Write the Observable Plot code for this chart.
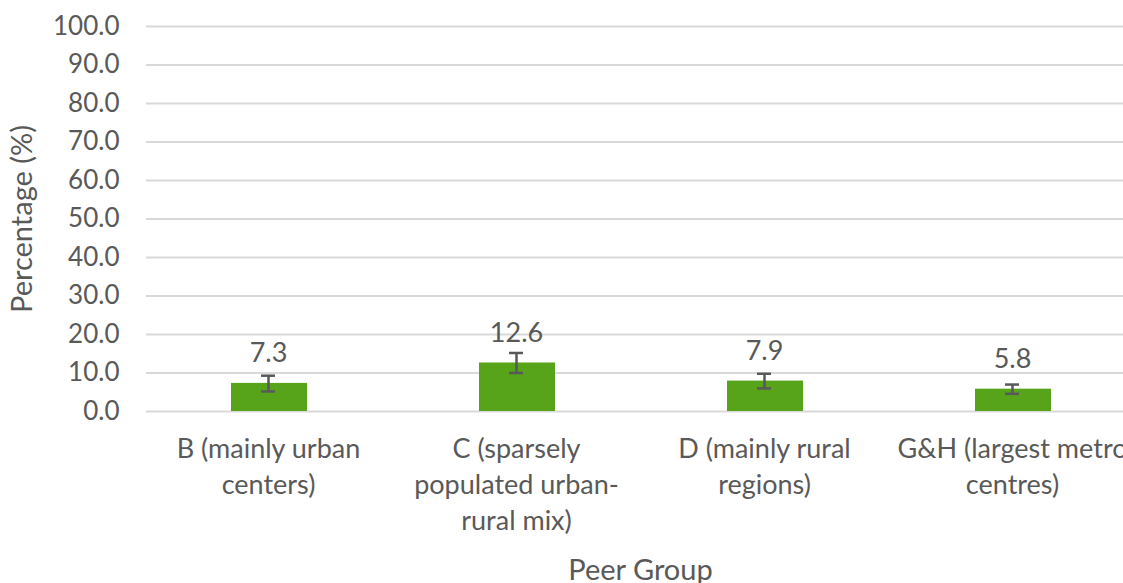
<!DOCTYPE html>
<html><head><meta charset="utf-8">
<script src="https://cdn.jsdelivr.net/npm/d3@7"></script>
<script src="https://cdn.jsdelivr.net/npm/@observablehq/plot@0.6"></script>
<style>
html,body{margin:0;padding:0;background:#fff;overflow:hidden;}
#chart{width:1123px;height:583px;overflow:hidden;}
#chart svg{max-width:none !important;}
</style></head>
<body><div id="chart"></div>
<script>
const categories = ["B", "C", "D", "G&H"];
const categoryLabels = [
  "B (mainly urban\ncenters)",
  "C (sparsely\npopulated urban-\nrural mix)",
  "D (mainly rural\nregions)",
  "G&H (largest metro\ncentres)"
];
const values = [7.3, 12.6, 7.9, 5.8];
const errLow = [5.2, 10.0, 6.0, 4.6];
const errHigh = [9.3, 15.2, 9.8, 7.0];
const yTicks = [0, 10, 20, 30, 40, 50, 60, 70, 80, 90, 100];

const data = categories.map((c, i) => ({cat: c, label: categoryLabels[i], value: values[i], lo: errLow[i], hi: errHigh[i]}));
const font = "Lato, 'Open Sans', sans-serif";
const textColor = "#595959";

const chart = Plot.plot({
  width: 1140,
  height: 583,
  marginTop: 26,
  marginBottom: 172,
  marginLeft: 144,
  marginRight: 4,
  style: {fontFamily: font, background: "#fff"},
  x: {domain: categories, padding: 0, axis: null},
  y: {domain: [0, 100], axis: null},
  marks: [
    Plot.gridY(yTicks, {stroke: "#d9d9d9", strokeOpacity: 1, strokeWidth: 2, insetLeft: 2}),
    Plot.axisY(yTicks, {tickSize: 0, tickPadding: 25, tickFormat: d => d.toFixed(1), fontSize: 26, fill: textColor, label: null}),
    Plot.barY(data, {x: "cat", y: "value", fill: "#57a31a", insetLeft: 87, insetRight: 85}),
    Plot.ruleX(data, {x: "cat", y1: "lo", y2: "hi", stroke: "#595959", strokeWidth: 2.5}),
    Plot.tickY(data, {x: "cat", y: "lo", stroke: "#595959", strokeWidth: 2.5, insetLeft: 117, insetRight: 117}),
    Plot.tickY(data, {x: "cat", y: "hi", stroke: "#595959", strokeWidth: 2.5, insetLeft: 117, insetRight: 117}),
    Plot.text(data, {x: "cat", y: "value", text: d => d.value.toFixed(1), dy: -30, fontSize: 27, fill: textColor}),
    Plot.text(data, {x: "cat", text: "label", frameAnchor: "bottom", lineAnchor: "top", dy: 21, lineHeight: 1.33, fontSize: 27, fill: textColor}),
    Plot.text(["Peer Group"], {frameAnchor: "bottom", lineAnchor: "bottom", dy: 168, fontSize: 29, fill: textColor}),
    Plot.text(["Percentage (%)"], {frameAnchor: "left", textAnchor: "middle", lineAnchor: "middle", rotate: -90, dx: -122, fontSize: 29, fill: textColor})
  ]
});
chart.style.maxWidth = "none";
document.getElementById("chart").appendChild(chart);
</script>
</body></html>
